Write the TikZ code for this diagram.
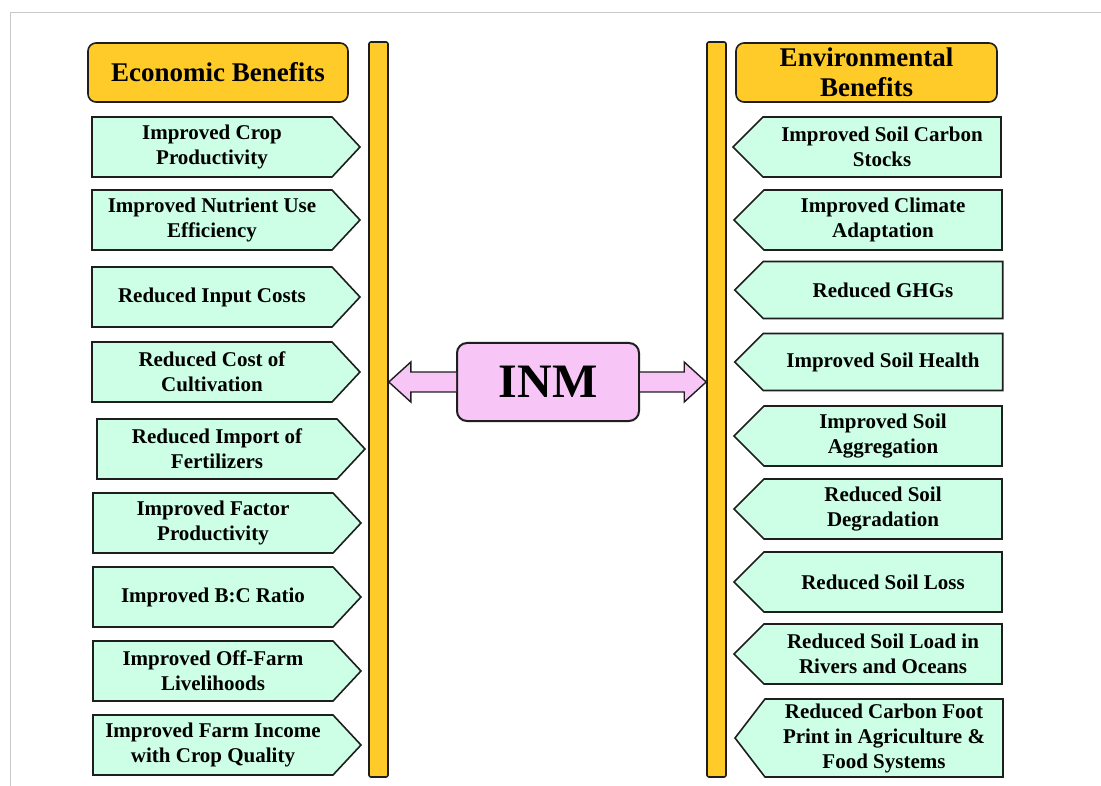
\documentclass[tikz,border=0pt]{standalone}
\usepackage{fontspec}
\setmainfont{Liberation Serif}
\usetikzlibrary{shapes.symbols, calc}

\definecolor{gainfill}{RGB}{204,255,230}
\definecolor{headfill}{RGB}{255,203,40}
\definecolor{inmfill}{RGB}{247,198,247}
\definecolor{edgecol}{RGB}{30,30,30}
\definecolor{framecol}{RGB}{200,200,200}

\begin{document}
\begin{tikzpicture}[x=1pt, y=-1pt,
	every node/.style={align=center, inner sep=0pt},
	head/.style={draw=edgecol, line width=1.6pt, fill=headfill, rounded corners=8pt,
		minimum width=260pt, minimum height=59pt, font=\bfseries\fontsize{27}{32}\selectfont},
	ecogain/.style={signal, signal to=east, signal pointer angle=94, draw=edgecol,
		line width=1.6pt, fill=gainfill, minimum width=268pt, minimum height=60pt,
		font=\bfseries\fontsize{21}{25}\selectfont},
	envgain/.style={ecogain, signal to=west, signal pointer angle=90},
	bar/.style={draw=edgecol, line width=1.6pt, fill=headfill, rounded corners=2pt,
		minimum width=19pt, minimum height=735pt},
	core/.style={draw=edgecol, line width=2pt, fill=inmfill, rounded corners=10pt,
		minimum width=182pt, minimum height=78pt, font=\bfseries\fontsize{48}{52}\selectfont},
	bigarrow/.style={draw=edgecol, line width=1.4pt, fill=inmfill, line join=miter}]
\useasboundingbox (0,0) rectangle (1101,786);
\draw[framecol, line width=1pt] (10,786) -- (10,13) -- (1101,13);

% headers and bars
\node (ecohead) [head] at (218,72.5) {Economic Benefits};
\node (envhead) [head, minimum width=261pt] at (866.5,72.5) {\raisebox{-2pt}{Environmental}\\Benefits};
\node (lbar) [bar] at (378.5,409.5) {};
\node (rbar) [bar] at (716.5,409.5) {};

% economic benefits
\node (eco1) [ecogain] at (212,147) {Improved Crop\\Productivity};
\node (eco2) [ecogain] at (212,220) {Improved Nutrient Use\\Efficiency};
\node (eco3) [ecogain] at (212,297) {Reduced Input Costs};
\node (eco4) [ecogain] at (212,372) {Reduced Cost of\\Cultivation};
\node (eco5) [ecogain] at (217,449) {Reduced Import of\\Fertilizers};
\node (eco6) [ecogain] at (213,523) {Improved Factor\\Productivity};
\node (eco7) [ecogain] at (213,597) {Improved B:C Ratio};
\node (eco8) [ecogain] at (213,671) {Improved Off-Farm\\Livelihoods};
\node (eco9) [ecogain] at (213,745) {Improved Farm Income\\with Crop Quality};

% environmental benefits
\node (env1) [envgain] at (882,147) {Improved Soil Carbon\\Stocks};
\node (env2) [envgain] at (883,220) {Improved Climate\\Adaptation};
\node (env3) [envgain, minimum height=57pt] at (883,290) {Reduced GHGs};
\node (env4) [envgain, minimum height=57pt] at (883,362) {Improved Soil Health};
\node (env5) [envgain] at (883,436) {Improved Soil\\Aggregation};
\node (env6) [envgain] at (883,509) {Reduced Soil\\Degradation};
\node (env7) [envgain] at (883,582) {Reduced Soil Loss};
\node (env8) [envgain] at (883,654) {Reduced Soil Load in\\Rivers and Oceans};
\node (env9) [envgain, minimum height=78pt, signal pointer angle=105] at (884,738) {Reduced Carbon Foot\\Print in Agriculture \&\\Food Systems};

% centre
\node (inm) [core] at (548,382) {INM};
\coordinate (ltip) at (lbar.east |- inm.west);
\coordinate (rtip) at (rbar.west |- inm.east);
\path[bigarrow] ($(inm.west)+(0,-10)$) -- ($(ltip)+(22,-10)$) -- ($(ltip)+(22,-20)$) -- (ltip)
	-- ($(ltip)+(22,20)$) -- ($(ltip)+(22,10)$) -- ($(inm.west)+(0,10)$);
\path[bigarrow] ($(inm.east)+(0,-10)$) -- ($(rtip)+(-22,-10)$) -- ($(rtip)+(-22,-20)$) -- (rtip)
	-- ($(rtip)+(-22,20)$) -- ($(rtip)+(-22,10)$) -- ($(inm.east)+(0,10)$);
\end{tikzpicture}
\end{document}
